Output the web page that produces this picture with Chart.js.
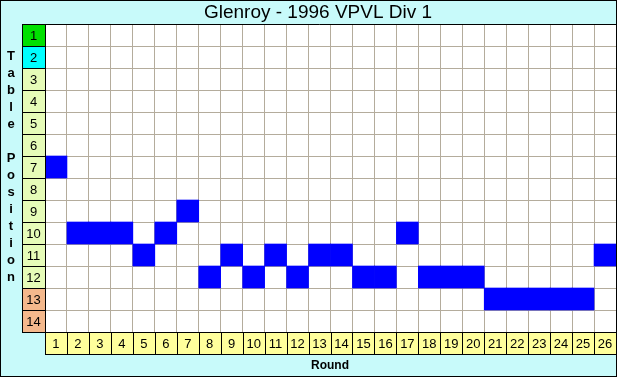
<!DOCTYPE html>
<html>
<head>
<meta charset="utf-8">
<script src="https://cdn.jsdelivr.net/npm/chart.js@4"></script>
<style>
  body { margin: 0; background: #c8fafa; }
  #wrap { width: 617px; height: 377px; }
</style>
</head>
<body>
<div id="wrap"><canvas id="ladderChart" width="617" height="377"></canvas></div>
<script>
// === LADDER POSITION CHART ===

const rounds = ['1','2','3','4','5','6','7','8','9','10','11','12','13','14','15','16','17','18','19','20','21','22','23','24','25','26'];
const positions = [7,10,10,10,11,10,9,12,11,12,11,12,11,11,12,12,10,12,12,12,13,13,13,13,13,11];
const tableLabels = ['1','2','3','4','5','6','7','8','9','10','11','12','13','14'];
const chartTitle = 'Glenroy - 1996 VPVL Div 1';
const xTitle = 'Round';
const yTitle = 'Table Position';

const FONT = '"Liberation Sans", Arial, sans-serif';

function rowColor(i) {
    if (i === 1) return '#00e000';
    if (i === 2) return '#00ffff';
    if (i >= 13) return '#f4b88c';
    return '#e6fcb8';
}

const decor = {
    id: 'decor',
    beforeDraw(chart) {
        const { ctx, chartArea: a } = chart;
        ctx.save();
        ctx.fillStyle = '#c8fafa';
        ctx.fillRect(0, 0, chart.width, chart.height);
        ctx.fillStyle = '#ffffff';
        ctx.fillRect(a.left, a.top, a.right - a.left, a.bottom - a.top);
        ctx.restore();
    },
    afterDatasetsDraw(chart) {
        const { ctx, chartArea: a, scales: { x, y } } = chart;
        ctx.save();
        ctx.lineWidth = 1;
        ctx.strokeStyle = '#000';
        ctx.textAlign = 'center';
        ctx.textBaseline = 'middle';
        ctx.font = '13px ' + FONT;

        // table position cells
        tableLabels.forEach((lab, i) => {
            const y0 = Math.round(y.getPixelForValue(i));
            const y1 = Math.round(y.getPixelForValue(i + 1));
            ctx.fillStyle = rowColor(i + 1);
            ctx.fillRect(22, y0, a.left - 22, y1 - y0);
            ctx.strokeRect(22.5, y0 + 0.5, a.left - 22, y1 - y0);
            ctx.fillStyle = '#000';
            ctx.fillText(lab, (22 + a.left) / 2, (y0 + y1) / 2 + 1);
        });

        // round cells
        const w = (a.right - a.left) / rounds.length;
        rounds.forEach((lab, j) => {
            const cx = x.getPixelForValue(j);
            const x0 = Math.round(cx - w / 2);
            const x1 = Math.round(cx + w / 2);
            ctx.fillStyle = '#ffff9c';
            ctx.fillRect(x0, a.bottom, x1 - x0, 22);
            ctx.strokeRect(x0 + 0.5, a.bottom + 0.5, x1 - x0, 22);
            ctx.fillStyle = '#000';
            ctx.fillText(lab, cx, a.bottom + 12);
        });

        // top separator and outer frame
        ctx.beginPath();
        ctx.moveTo(22, a.top + 0.5);
        ctx.lineTo(chart.width, a.top + 0.5);
        ctx.stroke();
        ctx.strokeRect(0.5, 0.5, chart.width - 1, chart.height - 1);

        // titles
        ctx.font = '19px ' + FONT;
        ctx.fillText(chartTitle, 318, 13);
        ctx.font = 'bold 12px ' + FONT;
        ctx.fillText(xTitle, 330, 366);
        ctx.font = 'bold 13px ' + FONT;
        yTitle.split('').forEach((ch, k) => {
            ctx.fillText(ch, 11, 56 + k * 17);
        });
        ctx.restore();
    }
};

new Chart(document.getElementById('ladderChart'), {
    type: 'bar',
    data: {
        labels: rounds,
        datasets: [{
            data: positions.map(p => [p - 1, p]),
            backgroundColor: '#0000ff',
            borderWidth: 0,
            barPercentage: 1,
            categoryPercentage: 1,
            borderSkipped: false
        }]
    },
    options: {
        responsive: false,
        animation: false,
        layout: { padding: { top: 24, left: 45, right: 1, bottom: 45 } },
        plugins: { legend: { display: false }, tooltip: { enabled: false }, title: { display: false } },
        scales: {
            x: {
                offset: true,
                grid: { offset: true, color: '#b4ac9c', drawTicks: false },
                border: { display: false },
                ticks: { display: false }
            },
            y: {
                min: 0, max: 14, reverse: true,
                grid: { color: '#b4ac9c', drawTicks: false },
                border: { display: false },
                ticks: { display: false, stepSize: 1 }
            }
        }
    },
    plugins: [decor]
});
</script>
</body>
</html>
